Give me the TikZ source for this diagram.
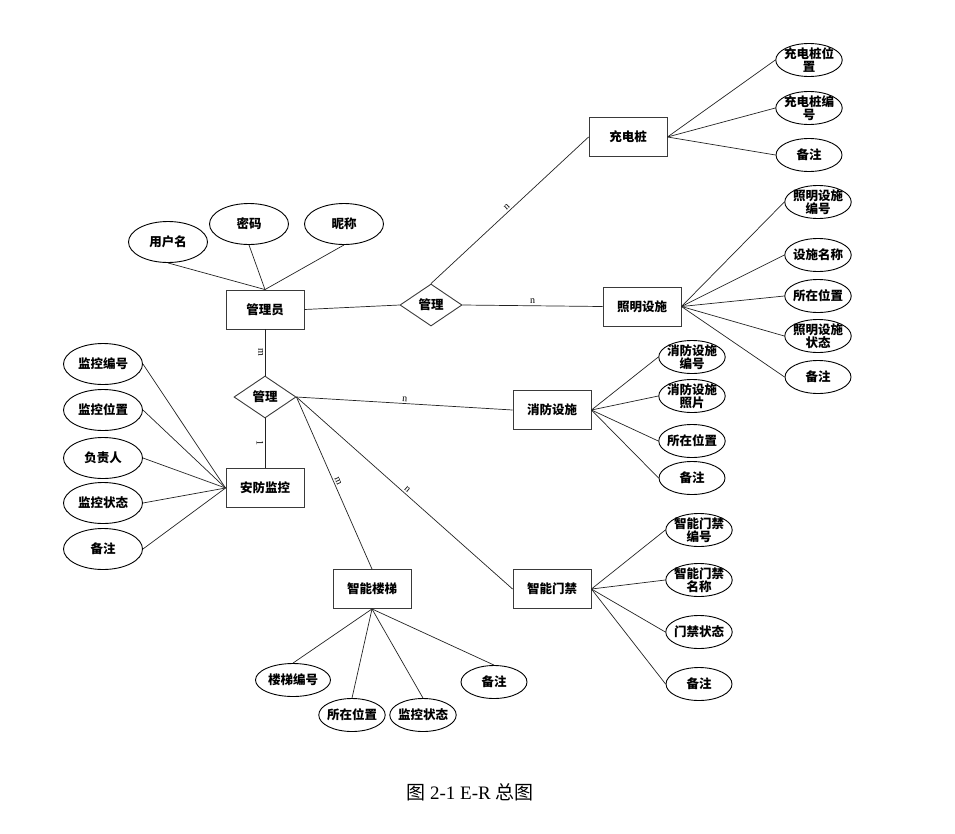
\documentclass[tikz,border=0pt]{standalone}
\usepackage{fontspec}
\setmainfont{Liberation Serif}
\newfontfamily\cjk{Noto Sans CJK SC}
\usetikzlibrary{
  shapes.geometric,
  positioning
}
\definecolor{erLine}{HTML}{222222}
\definecolor{erBox}{HTML}{3A3A3A}
\tikzset{
  ernode/.style={
    draw=erBox, line width=0.9pt, align=center, inner sep=1pt,
    font=\cjk\bfseries\fontsize{12.5}{12.5}\selectfont
  },
  entity/.style={ernode, rectangle, minimum width=78pt, minimum height=39pt},
  attr/.style={ernode, ellipse, draw=black, inner xsep=-1.5pt, inner ysep=-3pt,
    minimum width=66pt, minimum height=33pt},
  attrbig/.style={attr, minimum width=79pt, minimum height=41pt},
  relation/.style={ernode, diamond, minimum width=62pt, minimum height=42pt, inner sep=0pt},
  link/.style={draw=erLine, line width=0.7pt},
  card/.style={font=\rmfamily\fontsize{10}{10}\selectfont, inner sep=1.5pt}
}

\begin{document}
\begin{tikzpicture}[x=1pt, y=-1pt]
  \useasboundingbox (0,0) rectangle (955,833);

  % entities and relations
  \node[entity] (admin) at (265,309.5) {管理员};
  \node[relation] (mgrTop) at (431,305) {管理};
  \node[relation] (mgrLow) at (265,397) {管理};
  \node[entity] (security) at (265,488) {安防监控};
  \node[entity] (charger) at (628,137) {充电桩};
  \node[entity] (lighting) at (642,306.5) {照明设施};
  \node[entity] (fire) at (552,410) {消防设施};
  \node[entity] (door) at (552,589) {智能门禁};
  \node[entity] (elevator) at (372,589) {智能楼梯};

  % relationships
  \draw[link] (admin.east) -- (mgrTop.west);
  \draw[link] (mgrTop.north) -- node[card, sloped, above] {n} (charger.west);
  \draw[link] (mgrTop.east) -- node[card, above] {n} (lighting.west);
  \draw[link] (admin.south) -- node[card, sloped, below] {m} (mgrLow.north);
  \draw[link] (mgrLow.south) -- node[card, sloped, below] {1} (security.north);
  \draw[link] (mgrLow.east) -- node[card, sloped, above] {n} (fire.west);
  \draw[link] (mgrLow.east) -- node[card, sloped, above] {m} (elevator.north);
  \draw[link] (mgrLow.east) -- node[card, sloped, above] {n} (door.west);

  % admin attributes
  \foreach \n/\x/\y/\t in {aUser/168/242/用户名, aPass/249/224/密码, aNick/344/224/昵称}{
    \node[attrbig] (\n) at (\x,\y) {\t};
    \draw[link] (\n.south) -- (admin.north);
  }

  % charger attributes
  \foreach \n/\y/\t in {cPos/60/{充电桩位\\置}, cNum/108/{充电桩编\\号}, cNote/155/备注}{
    \node[attr] (\n) at (809,\y) {\t};
    \draw[link] (charger.east) -- (\n.west);
  }

  % lighting attributes
  \foreach \n/\y/\t in {lNum/202/{照明设施\\编号}, lName/255/设施名称, lPos/296/所在位置,
      lState/336/{照明设施\\状态}, lNote/377/备注}{
    \node[attr] (\n) at (818,\y) {\t};
    \draw[link] (lighting.east) -- (\n.west);
  }

  % fire attributes
  \foreach \n/\y/\t in {fNum/357/{消防设施\\编号}, fPic/396/{消防设施\\照片}, fPos/441/所在位置, fNote/478/备注}{
    \node[attr] (\n) at (692,\y) {\t};
    \draw[link] (fire.east) -- (\n.west);
  }

  % door attributes
  \foreach \n/\y/\t in {dNum/530/{智能门禁\\编号}, dName/580/{智能门禁\\名称}, dState/632/门禁状态, dNote/684/备注}{
    \node[attr] (\n) at (699,\y) {\t};
    \draw[link] (door.east) -- (\n.west);
  }

  % elevator attributes
  \node[attr, minimum width=75pt] (eNum) at (293,680) {楼梯编号};
  \foreach \n/\x/\y/\t in {ePos/352/715/所在位置, eState/423/715/监控状态, eNote/494/682/备注}{
    \node[attr] (\n) at (\x,\y) {\t};
  }
  \foreach \n in {eNum, ePos, eState, eNote}
    \draw[link] (elevator.south) -- (\n.north);

  % security attributes
  \foreach \n/\y/\t in {sNum/364/监控编号, sPos/410/监控位置, sOwner/458/负责人, sState/503/监控状态, sNote/549/备注}{
    \node[attrbig] (\n) at (103,\y) {\t};
    \draw[link] (security.west) -- (\n.east);
  }

  \node[font=\fontsize{19}{19}\selectfont] (caption) at (470,792) {{\cjk 图} 2-1 E-R {\cjk 总图}};
\end{tikzpicture}
\end{document}
